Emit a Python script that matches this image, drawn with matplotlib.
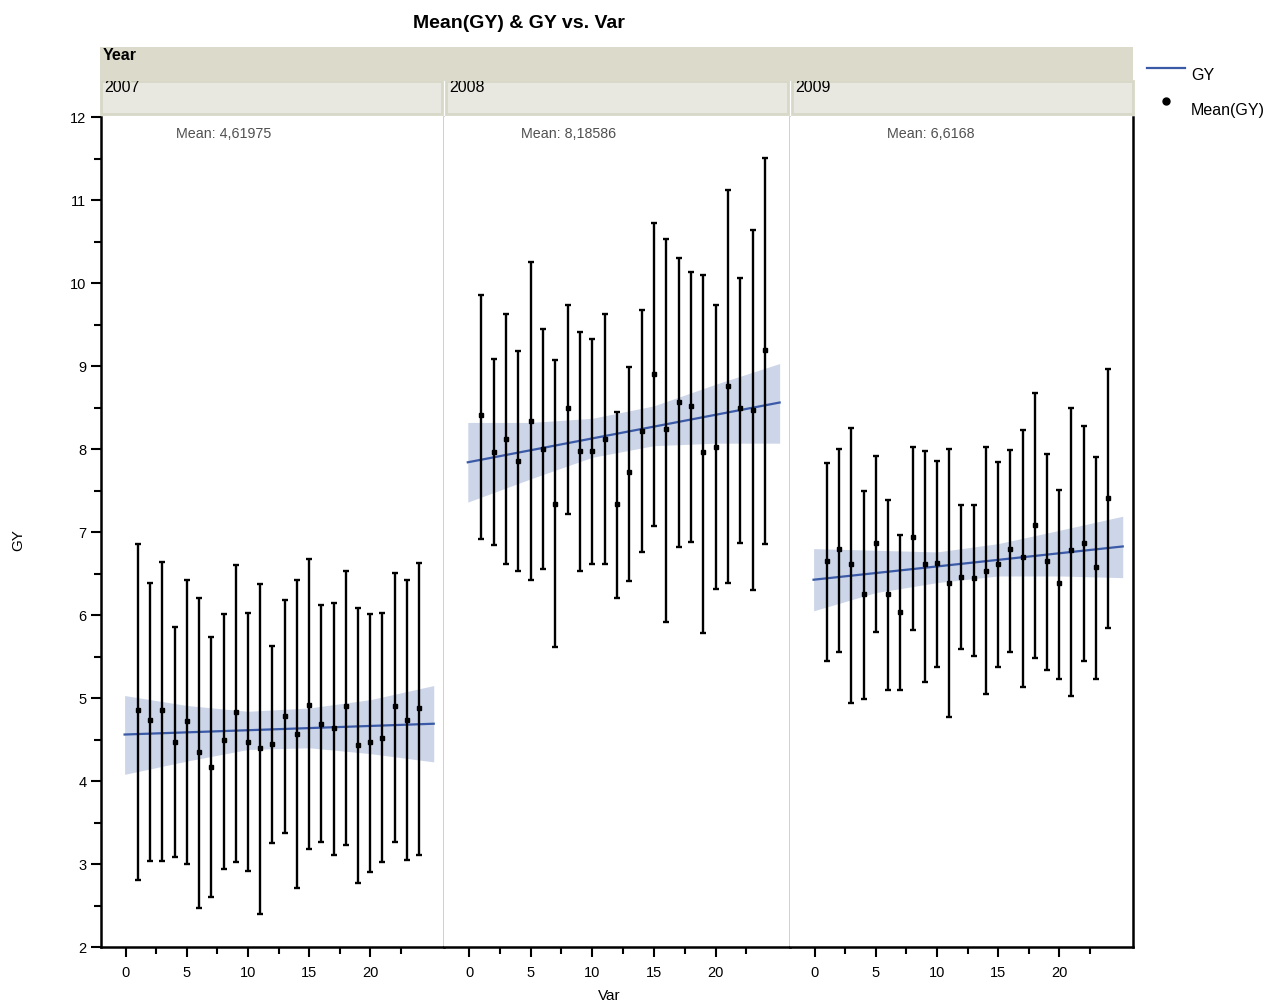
import matplotlib.pyplot as plt
import numpy as np
from matplotlib.patches import Rectangle
from matplotlib.lines import Line2D

plt.rcParams['font.family'] = ['Liberation Sans', 'DejaVu Sans']

years = ['2007', '2008', '2009']
var = list(range(1, 25))

mean_2007 = [4.86, 4.74, 4.86, 4.47, 4.72, 4.35, 4.17, 4.50, 4.83, 4.47, 4.40, 4.45,
             4.78, 4.57, 4.92, 4.69, 4.64, 4.90, 4.43, 4.47, 4.52, 4.90, 4.74, 4.88]
high_2007 = [6.86, 6.39, 6.64, 5.85, 6.42, 6.20, 5.73, 6.01, 6.60, 6.03, 6.37, 5.63,
             6.18, 6.42, 6.67, 6.12, 6.14, 6.53, 6.08, 6.01, 6.02, 6.51, 6.42, 6.63]
low_2007 = [2.81, 3.04, 3.04, 3.09, 3.00, 2.47, 2.60, 2.94, 3.02, 2.92, 2.40, 3.25,
            3.37, 2.71, 3.18, 3.26, 3.11, 3.23, 2.77, 2.90, 3.02, 3.26, 3.05, 3.11]

mean_2008 = [8.41, 7.96, 8.12, 7.86, 8.34, 8.00, 7.34, 8.50, 7.98, 7.98, 8.12, 7.34,
             7.72, 8.22, 8.90, 8.24, 8.57, 8.52, 7.96, 8.03, 8.76, 8.49, 8.47, 9.19]
high_2008 = [9.85, 9.08, 9.63, 9.18, 10.25, 9.44, 9.07, 9.74, 9.41, 9.32, 9.63, 8.45,
             8.99, 9.67, 10.72, 10.53, 10.30, 10.13, 10.10, 9.74, 11.12, 10.06, 10.64, 11.51]
low_2008 = [6.92, 6.84, 6.61, 6.53, 6.42, 6.55, 5.61, 7.22, 6.53, 6.62, 6.61, 6.21,
            6.41, 6.76, 7.07, 5.92, 6.82, 6.88, 5.78, 6.31, 6.38, 6.87, 6.30, 6.85]

mean_2009 = [6.65, 6.80, 6.61, 6.25, 6.87, 6.25, 6.04, 6.94, 6.61, 6.63, 6.39, 6.46,
             6.44, 6.53, 6.61, 6.80, 6.70, 7.08, 6.65, 6.39, 6.78, 6.87, 6.58, 7.41]
high_2009 = [7.83, 8.00, 8.25, 7.49, 7.91, 7.39, 6.96, 8.02, 7.98, 7.86, 8.00, 7.32,
             7.33, 8.02, 7.84, 7.99, 8.23, 8.68, 7.94, 7.51, 8.49, 8.28, 7.90, 8.96]
low_2009 = [5.44, 5.56, 4.94, 4.99, 5.79, 5.10, 5.10, 5.82, 5.19, 5.37, 4.77, 5.59,
            5.51, 5.05, 5.37, 5.56, 5.13, 5.48, 5.34, 5.23, 5.02, 5.44, 5.23, 5.84]

# regression line (ends) and confidence band read at fit_x
line_x = [-0.1, 25.2]
line_2007 = [4.56, 4.69]
line_2008 = [7.84, 8.56]
line_2009 = [6.425, 6.826]
fit_x = [-0.1, 5, 10, 15, 20, 25.2]
ci_hi_2007 = [5.03, 4.91, 4.84, 4.88, 4.98, 5.15]
ci_lo_2007 = [4.08, 4.24, 4.38, 4.40, 4.33, 4.23]
ci_hi_2008 = [8.32, 8.32, 8.37, 8.52, 8.78, 9.03]
ci_lo_2008 = [7.36, 7.64, 7.90, 8.04, 8.07, 8.07]
ci_hi_2009 = [6.80, 6.78, 6.76, 6.86, 7.02, 7.19]
ci_lo_2009 = [6.05, 6.27, 6.39, 6.47, 6.47, 6.45]

mean_labels = ['Mean: 4,61975', 'Mean: 8,18586', 'Mean: 6,6168']

panels = [
    (mean_2007, low_2007, high_2007, line_2007, ci_lo_2007, ci_hi_2007),
    (mean_2008, low_2008, high_2008, line_2008, ci_lo_2008, ci_hi_2008),
    (mean_2009, low_2009, high_2009, line_2009, ci_lo_2009, ci_hi_2009),
]

W, H = 1267, 1004
fig = plt.figure(figsize=(W / 100, H / 100), dpi=100)

def fx(px):
    return px / W

def fy(py):
    return (H - py) / H

edges = [101, 444, 790, 1133]
top_px, bot_px = 118, 948
label_pos = [0.357, 0.36, 0.41]
line_col = '#3a5aa8'
band_col = '#cdd6e9'
grey = '#c8c8c8'

axes = []
for i, (m, lo, hi, ln, cl, ch) in enumerate(panels):
    ax = fig.add_axes([fx(edges[i]), fy(bot_px), fx(edges[i + 1] - edges[i]), (bot_px - top_px) / H])
    axes.append(ax)
    m = np.array(m)
    ax.fill_between(fit_x, cl, ch, color=band_col, lw=0, zorder=1)
    ax.plot(line_x, ln, color=line_col, lw=1.6, zorder=2)
    ax.errorbar(var, m, yerr=[m - np.array(lo), np.array(hi) - m], fmt='s', ms=2.4,
                color='black', ecolor='black', elinewidth=1.7, capsize=2, capthick=1.7, zorder=3)
    ax.set_xlim(-2.03, 26.04)
    ax.set_ylim(2, 12)
    ax.set_xticks([0, 5, 10, 15, 20])
    ax.set_xticks([2.5, 7.5, 12.5, 17.5, 22.5], minor=True)
    ax.set_yticks(range(2, 13))
    ax.set_yticks(np.arange(2.5, 12, 1), minor=True)
    ax.tick_params(axis='both', which='major', length=7, width=1.5, labelsize=10.5, color='black')
    ax.tick_params(axis='both', which='minor', length=5, width=1.5, color='black')
    ax.tick_params(axis='x', pad=6)
    ax.spines['top'].set_visible(False)
    ax.spines['bottom'].set_linewidth(1.8)
    if i == 0:
        ax.spines['left'].set_linewidth(1.8)
    else:
        ax.spines['left'].set_visible(False)
        ax.tick_params(axis='y', which='both', left=False, labelleft=False)
    if i == 2:
        ax.spines['right'].set_linewidth(1.8)
    else:
        ax.spines['right'].set_color(grey)
        ax.spines['right'].set_linewidth(1.2)
    ax.text(label_pos[i], 0.981, mean_labels[i], transform=ax.transAxes, ha='center',
            va='center', fontsize=10.3, color='#505050')

# strip header
fig.patches.append(Rectangle((fx(100), fy(82)), fx(1033), (82 - 48) / H,
                             transform=fig.transFigure, facecolor='#dcdacb', edgecolor='none', zorder=5))
box_edges = [(101, 442), (446, 788), (792, 1133)]
for (a, b), yr in zip(box_edges, years):
    fig.patches.append(Rectangle((fx(a), fy(115)), fx(b - a), (115 - 82) / H,
                                 transform=fig.transFigure, facecolor='#e8e8e0',
                                 edgecolor='#d8d8c8', lw=2, zorder=4))
    fig.text(fx(a + 3), fy(92.5), yr, fontsize=11.5, va='baseline', ha='left', zorder=4.5)
fig.text(fx(103), fy(60), 'Year', fontsize=11.5, fontweight='bold', va='baseline', ha='left', zorder=6)

fig.text(fx(519), fy(24), 'Mean(GY) & GY vs. Var', fontsize=14, fontweight='bold', ha='center', va='center')
fig.text(fx(18), fy(540), 'GY', fontsize=11, rotation=90, ha='center', va='center')
fig.text(fx(609), fy(996), 'Var', fontsize=11, ha='center', va='center')

# legend
fig.lines.append(Line2D([fx(1147), fx(1185)], [fy(69), fy(69)], transform=fig.transFigure,
                        color=line_col, lw=1.6))
fig.text(fx(1191), fy(75), 'GY', fontsize=11.5, va='center', ha='left')
fig.lines.append(Line2D([fx(1166)], [fy(102)], transform=fig.transFigure, marker='o',
                        ms=5, color='black', lw=0))
fig.text(fx(1191), fy(110), 'Mean(GY)', fontsize=11.5, va='center', ha='left')

fig.savefig('out.png', dpi=100)
